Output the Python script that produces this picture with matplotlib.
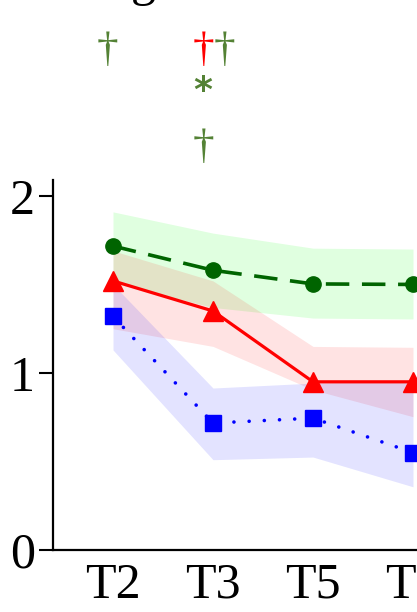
import numpy as np
import matplotlib
matplotlib.use("Agg")
import matplotlib.pyplot as plt

# time points (last label is cut off in the reference)
labels = ["T2", "T3", "T5", "T7"]

green_mean = [1.717, 1.58, 1.503, 1.50]
green_hi = [1.91, 1.79, 1.705, 1.70]
green_lo = [1.51, 1.37, 1.31, 1.305]

red_mean = [1.52, 1.35, 0.95, 0.95]
red_hi = [1.69, 1.52, 1.15, 1.145]
red_lo = [1.25, 1.15, 0.905, 0.753]

blue_mean = [1.32, 0.717, 0.745, 0.55]
blue_hi = [1.50, 0.915, 0.943, 0.955]
blue_lo = [1.13, 0.51, 0.525, 0.357]

# significance marks: (x index, offset, y, symbol, colour)
marks = [
    (0, -0.06, 2.82, "\u2020", "#548235"),
    (1, -0.10, 2.82, "\u2020", "red"),
    (1, 0.11, 2.82, "\u2020", "#548235"),
    (1, -0.10, 2.59, "*", "#548235"),
    (1, -0.10, 2.27, "\u2020", "#548235"),
]

plt.rcParams['font.family'] = ['Liberation Serif', 'DejaVu Serif']

fig = plt.figure(figsize=(4.17, 6.12), dpi=100)
ax = fig.add_axes([53 / 417, 62 / 612, 420 / 417, 370 / 612])

x = np.arange(len(labels))

ax.fill_between(x, green_lo, green_hi, color=(0, 1, 0), alpha=0.12, lw=0)
ax.fill_between(x, red_lo, red_hi, color=(1, 0, 0), alpha=0.11, lw=0)
ax.fill_between(x, blue_lo, blue_hi, color=(0, 0, 1), alpha=0.11, lw=0)

ax.plot(x, green_mean, color="#006400", lw=2.6, linestyle=(0, (6.5, 3.5)),
        marker="o", markersize=11)
ax.plot(x, red_mean, color="red", lw=2.3, marker="^", markersize=14)
ax.plot(x, blue_mean, color="blue", lw=2.6, linestyle=(0, (0.01, 4.2)),
        dash_capstyle="round", marker="s", markersize=11)

for i, off, yy, sym, col in marks:
    if sym == "*":
        ax.text(x[i] + off, yy, sym, color=col, fontsize=26, ha="center",
                va="center", clip_on=False, family="DejaVu Sans",
                fontweight="bold")
    else:
        ax.text(x[i] + off, yy, sym, color=col, fontsize=31, ha="center",
                va="center", clip_on=False)

fig.text(0.345, 1.008, "g", fontsize=36, ha="center", va="baseline")

ax.set_xlim(-0.6, 3.6)
ax.set_ylim(0, 2.09)
ax.set_xticks(x)
ax.set_xticklabels(labels)
ax.set_yticks([0, 1, 2])
ax.tick_params(axis="x", length=0, pad=9, labelsize=36)
ax.tick_params(axis="y", length=10, width=1.5, pad=3, labelsize=36)
ax.spines["top"].set_visible(False)
ax.spines["right"].set_visible(False)
ax.spines["left"].set_linewidth(1.6)
ax.spines["bottom"].set_linewidth(1.6)

plt.savefig("out.png", dpi=100)
